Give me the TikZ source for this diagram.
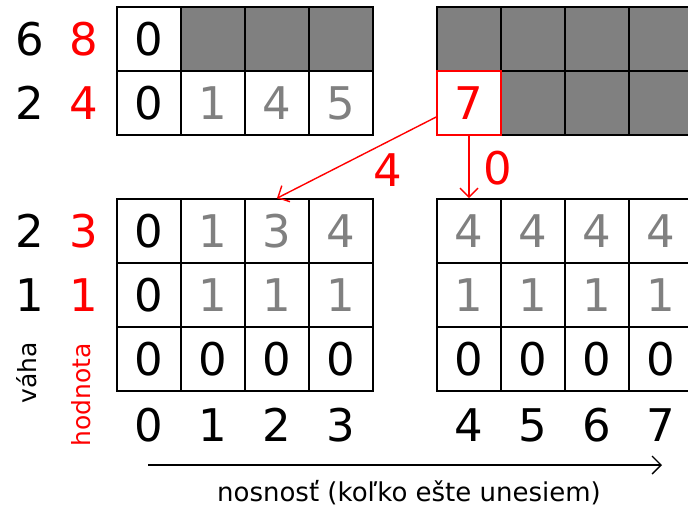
\documentclass[tikz,border=0pt]{standalone}
\usepackage{fontspec}
\setmainfont{DejaVu Sans}
\usetikzlibrary{arrows.meta,calc}
\definecolor{gtext}{RGB}{128,128,128}
\definecolor{gfill}{RGB}{128,128,128}
\definecolor{myred}{RGB}{255,0,0}
\begin{document}
\begin{tikzpicture}[x=1pt,y=-1pt,
  big/.style={font=\fontsize{45}{45}\selectfont,inner sep=0pt},
  cell/.style={big,draw=black,line width=1.6pt,minimum size=64pt,anchor=center},
  dark/.style={cell,fill=gfill},
  gcell/.style={cell,text=gtext},
  small/.style={font=\fontsize{25}{25}\selectfont,inner sep=0pt},
  redarrow/.style={draw=myred,line width=1.4pt,-{Straight Barb[length=9pt,width=18pt,line width=1.4pt]}},
  axisarrow/.style={draw=black,line width=1.4pt,-{Straight Barb[length=9pt,width=18pt,line width=1.4pt]}}
]
\useasboundingbox (0,0) rectangle (688,507);
\clip (0,0) rectangle (688,507);
% top-left block
\node[cell]  (a00) at (149,39) {0};
\node[dark]  (a01) at (213,39) {};
\node[dark]  (a02) at (277,39) {};
\node[dark]  (a03) at (341,39) {};
\node[cell]  (a10) at (149,103) {0};
\node[gcell] (a11) at (213,103) {1};
\node[gcell] (a12) at (277,103) {4};
\node[gcell] (a13) at (341,103) {5};
% top-right block
\node[dark] (b00) at (469,39) {};
\node[dark] (b01) at (533,39) {};
\node[dark] (b02) at (597,39) {};
\node[dark] (b03) at (661,39) {};
\node[dark] (b11) at (533,103) {};
\node[dark] (b12) at (597,103) {};
\node[dark] (b13) at (661,103) {};
\node[cell,draw=myred,text=myred] (b10) at (469,103) {7};
% bottom-left block
\node[cell]  (c00) at (149,231) {0};
\node[gcell] (c01) at (213,231) {1};
\node[gcell] (c02) at (277,231) {3};
\node[gcell] (c03) at (341,231) {4};
\node[cell]  (c10) at (149,295) {0};
\node[gcell] (c11) at (213,295) {1};
\node[gcell] (c12) at (277,295) {1};
\node[gcell] (c13) at (341,295) {1};
\node[cell]  (c20) at (149,359) {0};
\node[cell]  (c21) at (213,359) {0};
\node[cell]  (c22) at (277,359) {0};
\node[cell]  (c23) at (341,359) {0};
% bottom-right block
\node[gcell] (d00) at (469,231) {4};
\node[gcell] (d01) at (533,231) {4};
\node[gcell] (d02) at (597,231) {4};
\node[gcell] (d03) at (661,231) {4};
\node[gcell] (d10) at (469,295) {1};
\node[gcell] (d11) at (533,295) {1};
\node[gcell] (d12) at (597,295) {1};
\node[gcell] (d13) at (661,295) {1};
\node[cell]  (d20) at (469,359) {0};
\node[cell]  (d21) at (533,359) {0};
\node[cell]  (d22) at (597,359) {0};
\node[cell]  (d23) at (661,359) {0};
% row labels
\node[big] (w1) at (30,39) {6};
\node[big,text=myred] (v1) at (84,39) {8};
\node[big] (w2) at (30,103) {2};
\node[big,text=myred] (v2) at (84,103) {4};
\node[big] (w3) at (30,231) {2};
\node[big,text=myred] (v3) at (84,231) {3};
\node[big] (w4) at (30,295) {1};
\node[big,text=myred] (v4) at (84,295) {1};
\node[small,rotate=90] (vaha) at (27,373) {váha};
\node[small,rotate=90,text=myred] (hodnota) at (81,395) {hodnota};
% column labels
\node[big] (n0) at (149,425) {0};
\node[big] (n1) at (213,425) {1};
\node[big] (n2) at (277,425) {2};
\node[big] (n3) at (341,425) {3};
\node[big] (n4) at (469,425) {4};
\node[big] (n5) at (533,425) {5};
\node[big] (n6) at (597,425) {6};
\node[big] (n7) at (661,425) {7};
% arrows
\coordinate (s7) at ([yshift=-14pt]b10.west);
\draw[redarrow] (s7) -- (c02.north);
\draw[redarrow] (b10.south) -- (d00.north);
\node[big,text=myred] (l4) at (388,170) {4};
\node[big,text=myred] (l0) at (498,168) {0};
% axis
\coordinate (ax0) at (148,465);
\coordinate (ax1) at (662,465);
\draw[axisarrow] (ax0) -- (ax1);
\node[font=\fontsize{26}{26}\selectfont,inner sep=0pt] (axl) at (409,493) {nosnosť (koľko ešte unesiem)};
\end{tikzpicture}
\end{document}
